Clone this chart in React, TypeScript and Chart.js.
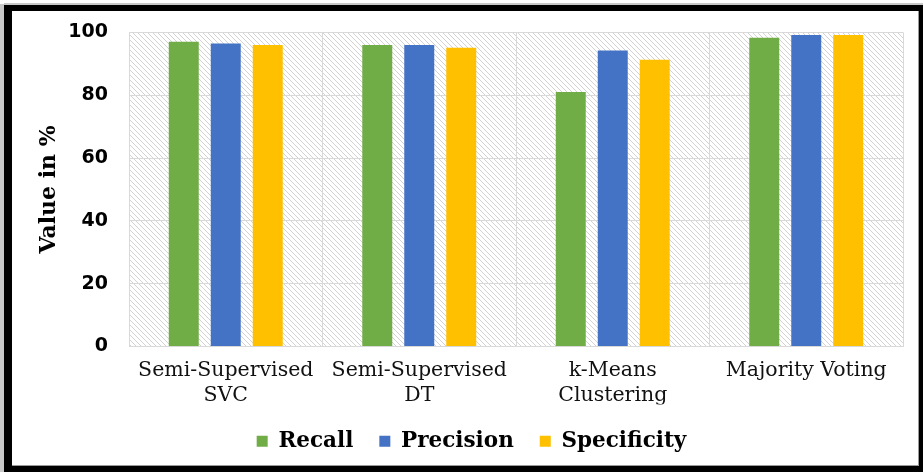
import React, { useEffect, useRef } from 'react';
import { Chart, registerables } from 'chart.js';

Chart.register(...registerables);

const categories: (string | string[])[] = [
  ['Semi-Supervised', 'SVC'],
  ['Semi-Supervised', 'DT'],
  ['k-Means', 'Clustering'],
  'Majority Voting',
];
const seriesNames = ['Recall', 'Precision', 'Specificity'];
const recall = [97, 96, 81, 98.3];
const precision = [96.5, 96, 94.2, 99.2];
const specificity = [96, 95.1, 91.3, 99.2];
const yTicks = [0, 20, 40, 60, 80, 100];
const seriesColors = ['#70AD47', '#4472C4', '#FFC000'];

const W = 923;
const H = 472;

function makePattern(ctx: CanvasRenderingContext2D) {
  const s = 5;
  const c = document.createElement('canvas');
  c.width = s;
  c.height = s;
  const g = c.getContext('2d')!;
  g.fillStyle = '#ffffff';
  g.fillRect(0, 0, s, s);
  g.fillStyle = '#d2d2d2';
  for (let i = 0; i < s; i++) {
    g.fillRect(i, i, 1, 1);
  }
  return ctx.createPattern(c, 'repeat');
}

const framePlugin = {
  id: 'frameAndHatch',
  beforeDraw(chart: any) {
    const ctx: CanvasRenderingContext2D = chart.ctx;
    ctx.save();
    ctx.fillStyle = '#ffffff';
    ctx.fillRect(0, 0, W, H);
    ctx.fillStyle = '#c8c8c8';
    ctx.fillRect(0, 4, 4, H - 4);
    ctx.fillRect(4, 3, W - 4, 2);
    ctx.fillStyle = '#000000';
    ctx.fillRect(4, 5, W - 4, H - 5);
    ctx.fillStyle = '#9a9a9a';
    ctx.fillRect(12, 11, 907, 455);
    ctx.fillStyle = '#ffffff';
    ctx.fillRect(12, 11, 906, 454);
    const a = chart.chartArea;
    const p = makePattern(ctx);
    if (p) {
      ctx.fillStyle = p;
      ctx.fillRect(Math.round(a.left), Math.round(a.top), Math.round(a.right - a.left), Math.round(a.bottom - a.top));
    }
    ctx.restore();
  },
};

export default function App() {
  const ref = useRef<HTMLCanvasElement>(null);

  useEffect(() => {
    document.body.style.margin = '0';
    const canvas = ref.current!;
    const values = [recall, precision, specificity];
    const chart = new Chart(canvas, {
      type: 'bar',
      data: {
        labels: categories as any,
        datasets: seriesNames.map((name, i) => ({
          label: name,
          data: values[i],
          backgroundColor: seriesColors[i],
          borderWidth: 0,
          categoryPercentage: 0.651,
          barPercentage: 0.714,
        })),
      },
      options: {
        animation: false,
        responsive: false,
        maintainAspectRatio: false,
        layout: { padding: { left: 40, right: 20, top: 31, bottom: 10 } },
        plugins: {
          legend: {
            position: 'bottom',
            labels: {
              boxWidth: 11,
              boxHeight: 11,
              padding: 26,
              color: '#000',
              font: { family: 'DejaVu Serif', weight: 'bold', size: 21.5 },
            },
          },
          tooltip: { enabled: false },
        },
        scales: {
          x: {
            grid: { color: '#d9d9d9', drawTicks: false, offset: true },
            border: { color: '#d9d9d9' },
            ticks: {
              padding: 12,
              color: '#111',
              maxRotation: 0,
              autoSkip: false,
              font: { family: 'DejaVu Serif', size: 20.5, lineHeight: 1.2 },
            },
            afterFit: (s: any) => {
              s.height = 58;
            },
          },
          y: {
            min: 0,
            max: 100,
            afterBuildTicks: (s: any) => {
              s.ticks = yTicks.map((v) => ({ value: v }));
            },
            grid: { color: '#d9d9d9', drawTicks: false },
            border: { color: '#d9d9d9' },
            ticks: {
              padding: 21,
              color: '#000',
              font: { family: 'DejaVu Sans', weight: 'bold', size: 19 },
            },
            title: {
              display: true,
              text: 'Value in %',
              color: '#000',
              padding: 0,
              font: { family: 'DejaVu Serif', weight: 'bold', size: 22, lineHeight: 0.8 },
            },
            afterFit: (s: any) => {
              s.width = 89;
            },
          },
        },
      },
      plugins: [framePlugin],
    } as any);
    return () => chart.destroy();
  }, []);

  return (
    <div style={{ width: W, height: H }}>
      <canvas ref={ref} width={W} height={H} style={{ display: 'block', width: W, height: H }} />
    </div>
  );
}
